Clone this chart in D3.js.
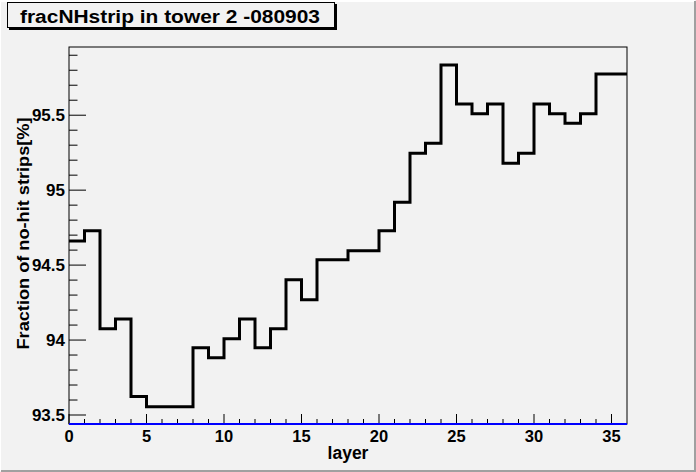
<!DOCTYPE html>
<html>
<head>
<meta charset="utf-8">
<script src="https://cdn.jsdelivr.net/npm/d3@7"></script>
<style>
  body { margin: 0; background: #f2f2f2; }
  svg { display: block; font-family: "Liberation Sans", Arial, sans-serif; font-weight: bold; }
</style>
</head>
<body>
<div id="chart"></div>
<script>
// chart data: one value per layer bin (0..35)
const layers = d3.range(0, 36);
const fracNoHit = [
  94.66, 94.73, 94.075, 94.14, 93.624, 93.555, 93.555, 93.555,
  93.949, 93.882, 94.009, 94.14, 93.949, 94.075, 94.402, 94.269,
  94.535, 94.535, 94.595, 94.595, 94.729, 94.92, 95.247, 95.313,
  95.835, 95.575, 95.509, 95.575, 95.18, 95.247, 95.575, 95.509,
  95.446, 95.509, 95.775, 95.775
];
const xTicks = [0, 5, 10, 15, 20, 25, 30, 35];
const yTicks = [93.5, 94, 94.5, 95, 95.5];
const titleText = "fracNHstrip in tower 2 -080903";

const W = 696, H = 472;
const margin = { top: 47, right: 69, bottom: 48, left: 69 };
const width = W - margin.left - margin.right,
    height = H - margin.top - margin.bottom;

const svg = d3.select("#chart")
    .append("svg")
    .attr("width", W)
    .attr("height", H);

// canvas background + raised border
svg.append("rect").attr("width", W).attr("height", H).attr("fill", "#f2f2f2");
svg.append("path").attr("d", `M0,${H - 1}V1H${W - 1}`).attr("fill", "none")
    .attr("stroke", "#ffffff").attr("stroke-width", 2);
svg.append("path").attr("d", `M1,${H - 1}H${W - 1}V1`).attr("fill", "none")
    .attr("stroke", "#a0a0a0").attr("stroke-width", 2);

const g = svg.append("g")
    .attr("transform", `translate(${margin.left},${margin.top})`);

const x = d3.scaleLinear().domain([0, 36]).range([0, width]);
const y = d3.scaleLinear().domain([93.44, 95.955]).range([height, 0]);

// frame
g.append("rect")
    .attr("width", width).attr("height", height)
    .attr("fill", "none").attr("stroke", "#000").attr("stroke-width", 1);

// y ticks (inside, pointing right)
g.selectAll(".yminor")
    .data(d3.range(93.5, 95.95, 0.1))
    .join("line")
    .attr("x1", 0).attr("x2", d => Math.abs(d * 2 - Math.round(d * 2)) < 1e-6 ? 17 : 8.5)
    .attr("y1", d => y(d)).attr("y2", d => y(d))
    .attr("stroke", "#000").attr("stroke-width", 1);

g.selectAll(".ylab")
    .data(yTicks)
    .join("text")
    .attr("x", -4).attr("y", d => y(d))
    .attr("dy", "0.36em")
    .attr("text-anchor", "end")
    .attr("font-size", 17)
    .text(d => d);

// x ticks (inside, pointing up)
g.selectAll(".xminor")
    .data(d3.range(0, 36, 1))
    .join("line")
    .attr("x1", d => x(d)).attr("x2", d => x(d))
    .attr("y1", height).attr("y2", d => d % 5 === 0 ? height - 10 : height - 5)
    .attr("stroke", "#000").attr("stroke-width", 1);

g.selectAll(".xlab")
    .data(xTicks)
    .join("text")
    .attr("x", d => x(d)).attr("y", height + 18)
    .attr("text-anchor", "middle")
    .attr("font-size", 16.5)
    .text(d => d);

// blue baseline (second hist below range)
g.append("line")
    .attr("x1", 0).attr("x2", width)
    .attr("y1", height).attr("y2", height)
    .attr("stroke", "#0000ff").attr("stroke-width", 2);

// histogram outline
const pts = [];
layers.forEach((l, i) => {
    pts.push([x(l), y(fracNoHit[i])]);
    pts.push([x(l + 1), y(fracNoHit[i])]);
});
g.append("path")
    .attr("d", d3.line()(pts))
    .attr("fill", "none")
    .attr("stroke", "#000")
    .attr("stroke-width", 3)
    .attr("stroke-linejoin", "miter");

// axis titles
g.append("text")
    .attr("x", width / 2).attr("y", height + 35)
    .attr("text-anchor", "middle")
    .attr("font-size", 17.5)
    .text("layer");

g.append("text")
    .attr("transform", `translate(${-40},${height / 2 - 2}) rotate(-90)`)
    .attr("text-anchor", "middle")
    .attr("font-size", 16)
    .attr("textLength", 232)
    .attr("lengthAdjust", "spacingAndGlyphs")
    .text("Fraction of no-hit strips[%]");

// title box with shadow
svg.append("rect").attr("x", 9).attr("y", 4).attr("width", 328).attr("height", 26).attr("fill", "#000");
svg.append("rect").attr("x", 7.5).attr("y", 2.5).attr("width", 327).attr("height", 25)
    .attr("fill", "#f2f2f2").attr("stroke", "#000").attr("stroke-width", 1);
svg.append("text")
    .attr("x", 170).attr("y", 22.5)
    .attr("text-anchor", "middle")
    .attr("font-size", 18)
    .attr("textLength", 300)
    .attr("lengthAdjust", "spacingAndGlyphs")
    .text(titleText);
</script>
</body>
</html>
